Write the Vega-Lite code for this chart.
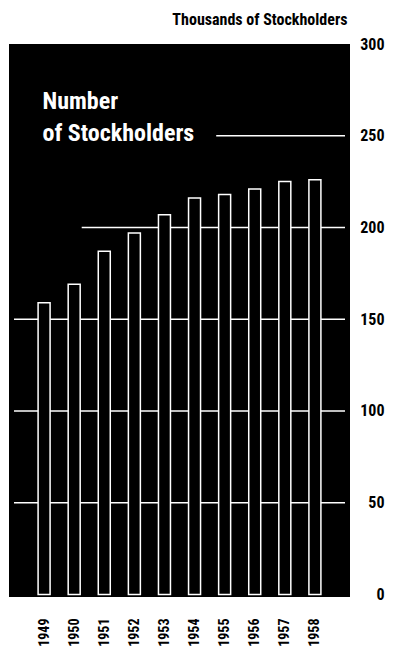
{
  "$schema": "https://vega.github.io/schema/vega-lite/v6.json",
  "width": 341,
  "height": 553,
  "autosize": {"type": "none"},
  "padding": {"left": 9, "top": 44, "right": 44, "bottom": 52},
  "background": "white",
  "config": {
    "view": {"fill": "black", "stroke": null},
    "axis": {"labelFont": "Roboto Condensed, DejaVu Sans Condensed, Roboto, sans-serif", "titleFont": "Roboto Condensed, DejaVu Sans Condensed, Roboto, sans-serif", "labelColor": "black", "titleColor": "black", "labelOverlap": false},
    "axisX": {
      "values": [1949, 1950, 1951, 1952, 1953, 1954, 1955, 1956, 1957, 1958],
      "format": "d",
      "labelAngle": -90,
      "labelFontSize": 14,
      "labelFontWeight": "bold",
      "labelPadding": 21,
      "labelOverlap": false,
      "ticks": false,
      "domain": false,
      "grid": false,
      "titleColor": "white",
      "titleFontSize": 24,
      "titleFontWeight": "bold",
      "titleLineHeight": 32,
      "titleAlign": "left",
      "titleBaseline": "alphabetic",
      "titleAngle": 0,
      "titleX": 33,
      "titleY": -489
    },
    "axisY": {
      "labelAlign": "right",
      "labelBaseline": "middle",
      "labelFontSize": 16,
      "labelFontWeight": "bold",
      "labelPadding": 34,
      "labelOverlap": false,
      "ticks": false,
      "domain": false,
      "grid": false,
      "titleFontSize": 16,
      "titleFontWeight": "bold",
      "titleAngle": 0,
      "titleAlign": "right",
      "titleBaseline": "alphabetic",
      "titleX": -3,
      "titleY": -19.5
    }
  },
  "datasets": {
    "holders": [
      {"year": 1949, "thousands": 159},
      {"year": 1950, "thousands": 169},
      {"year": 1951, "thousands": 187},
      {"year": 1952, "thousands": 197},
      {"year": 1953, "thousands": 207},
      {"year": 1954, "thousands": 216},
      {"year": 1955, "thousands": 218},
      {"year": 1956, "thousands": 221},
      {"year": 1957, "thousands": 225},
      {"year": 1958, "thousands": 226}
    ],
    "guides": [
      {"level": 50, "from": 1948, "to": 1959},
      {"level": 100, "from": 1948, "to": 1959},
      {"level": 150, "from": 1948, "to": 1959},
      {"level": 200, "from": 1950.25, "to": 1959},
      {"level": 250, "from": 1954.72, "to": 1959}
    ]
  },
  "layer": [
    {
      "data": {"name": "guides"},
      "mark": {"type": "rule", "color": "white", "strokeWidth": 1.5},
      "encoding": {
        "x": {
          "field": "from",
          "type": "quantitative",
          "scale": {"domain": [1948, 1959], "nice": false, "zero": false},
          "axis": {"orient": "bottom", "title": ["Number", "of Stockholders"], "labelOverlap": false, "values": [1949, 1950, 1951, 1952, 1953, 1954, 1955, 1956, 1957, 1958]}
        },
        "x2": {"field": "to"},
        "y": {
          "field": "level",
          "type": "quantitative",
          "scale": {"domain": [-1.4, 300], "nice": false, "zero": false},
          "axis": {"orient": "right", "title": "Thousands of Stockholders", "labelOverlap": false, "values": [0, 50, 100, 150, 200, 250, 300]}
        }
      }
    },
    {
      "data": {"name": "holders"},
      "mark": {"type": "bar", "orient": "vertical", "width": 12, "fill": "black", "stroke": "white", "strokeWidth": 1.5},
      "encoding": {
        "x": {
          "field": "year",
          "type": "quantitative",
          "axis": {"orient": "bottom", "title": ["Number", "of Stockholders"], "labelOverlap": false, "values": [1949, 1950, 1951, 1952, 1953, 1954, 1955, 1956, 1957, 1958]}
        },
        "y": {
          "field": "thousands",
          "type": "quantitative",
          "axis": {"orient": "right", "title": "Thousands of Stockholders", "labelOverlap": false, "values": [0, 50, 100, 150, 200, 250, 300]}
        }
      }
    }
  ]
}
